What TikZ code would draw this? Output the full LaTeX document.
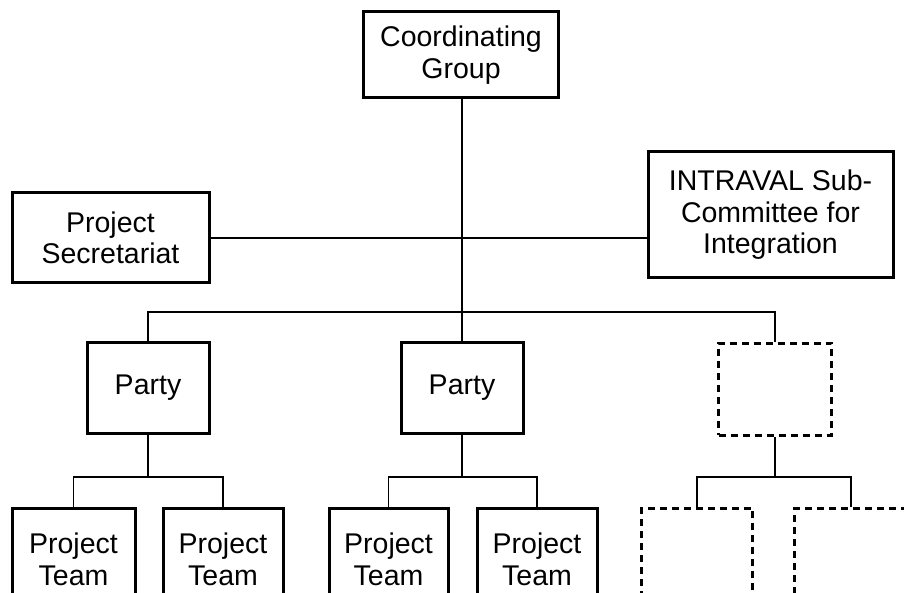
\documentclass[tikz,border=0pt]{standalone}
\usepackage{fontspec}
\setmainfont{Liberation Sans}
\begin{document}
\begin{tikzpicture}[x=1pt,y=-1pt,
  box/.style={draw=black, line width=3pt, rectangle, align=center, inner sep=0pt,
    font=\fontsize{28.5}{31.5}\selectfont},
  dbox/.style={draw=black, line width=3pt, rectangle, dash pattern=on 7pt off 5pt, inner sep=0pt},
  conn/.style={draw=black, line width=1.5pt}]
\clip (0,0) rectangle (904,593);
\fill[white] (0,0) rectangle (904,593);
% top level
\node[box, minimum width=195pt, minimum height=86pt] (coord) at (461,55) {Coordinating\\Group};
\node[box, minimum width=197pt, minimum height=90pt] (sec) at (110.5,238) {Project\\Secretariat};
\node[box, minimum width=245pt, minimum height=126pt] (intr) at (770.5,215) {INTRAVAL Sub-\\Committee for\\Integration};
% parties
\node[box, minimum width=122pt, minimum height=91pt] (p1) at (148,387.5) {Party};
\node[box, minimum width=122pt, minimum height=91pt] (p2) at (462,387.5) {Party};
\node[dbox, minimum width=113pt, minimum height=92pt] (p3) at (775,389) {};
% teams
\node[box, minimum width=123pt, minimum height=103pt] (t11) at (73.5,559.5) {Project\\Team};
\node[box, minimum width=120pt, minimum height=103pt] (t12) at (223,559.5) {Project\\Team};
\node[box, minimum width=119pt, minimum height=103pt] (t21) at (388.5,559.5) {Project\\Team};
\node[box, minimum width=120pt, minimum height=103pt] (t22) at (537,559.5) {Project\\Team};
\node[dbox, minimum width=111pt, minimum height=103pt] (t31) at (697,559.5) {};
\node[dbox, minimum width=113pt, minimum height=103pt] (t32) at (851,559.5) {};
% connectors
\coordinate (bus) at (462,312);
\draw[conn] (coord.south -| p2.north) -- (p2.north);
\draw[conn] (sec.east) -- (sec.east -| intr.west);
\draw[conn] (p1.north) -- (p1.north |- bus) -- (p3.north |- bus) -- (p3.north);
% party 1 children
\coordinate (b1) at (148,477);
\draw[conn] (p1.south) -- (b1);
\draw[conn] (t11.north) -- (t11.north |- b1) -- (t12.north |- b1) -- (t12.north);
% party 2 children
\coordinate (b2) at (462,477);
\draw[conn] (p2.south) -- (b2);
\draw[conn] (t21.north) -- (t21.north |- b2) -- (t22.north |- b2) -- (t22.north);
% party 3 children
\coordinate (b3) at (775,477);
\draw[conn] (p3.south) -- (b3);
\draw[conn] (t31.north) -- (t31.north |- b3) -- (t32.north |- b3) -- (t32.north);
\end{tikzpicture}
\end{document}
